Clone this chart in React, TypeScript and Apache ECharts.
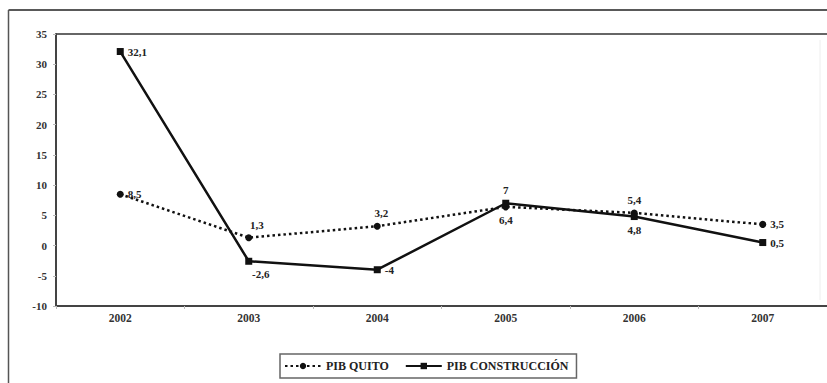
import React, { useEffect, useRef } from "react";
import * as echarts from "echarts";

const years = ["2002", "2003", "2004", "2005", "2006", "2007"];
const pibQuito = [8.5, 1.3, 3.2, 6.4, 5.4, 3.5];
const pibConstruccion = [32.1, -2.6, -4, 7, 4.8, 0.5];
const quitoLabelPos = ["right", "top", "top", "bottom", "top", "right"];
const constrLabelPos = ["right", "bottom", "right", "top", "bottom", "right"];
const quitoLabelShift = [0, 8, 4, 0, 0, 0];
const constrLabelShift = [0, 12, 0, 0, 0, 0];
const seriesNames = ["PIB QUITO", "PIB CONSTRUCCIÓN"];

const FONT = "'Liberation Serif', 'DejaVu Serif', serif";

const fmt = (v: number) => String(v).replace(".", ",");

export default function App() {
  const ref = useRef<HTMLDivElement>(null);
  useEffect(() => {
    if (!ref.current) return;
    const chart = echarts.init(ref.current, undefined, { renderer: "svg" });
    const labelStyle = {
      show: true,
      fontFamily: FONT,
      fontWeight: "bold" as const,
      fontSize: 11,
      color: "#222",
      distance: 4,
      formatter: (p: any) => fmt(p.value),
    };
    chart.setOption({
      animation: false,
      backgroundColor: "#fff",
      grid: { left: 56, top: 34, width: 773, height: 272, containLabel: false },
      xAxis: {
        type: "category",
        data: years,
        boundaryGap: true,
        axisLine: { onZero: false, lineStyle: { color: "#444", width: 2 } },
        axisTick: { show: true, alignWithLabel: false, length: 3, lineStyle: { color: "#bbb" } },
        axisLabel: { fontFamily: FONT, fontWeight: "bold", fontSize: 11.5, color: "#333", margin: 6 },
        splitLine: { show: false },
      },
      yAxis: {
        type: "value",
        min: -10,
        max: 35,
        interval: 5,
        axisLine: { show: true, lineStyle: { color: "#444", width: 2 } },
        axisTick: { show: true, length: 3, lineStyle: { color: "#bbb" } },
        axisLabel: { fontFamily: FONT, fontWeight: "bold", fontSize: 11, color: "#333", margin: 9 },
        splitLine: { show: false },
      },
      legend: {
        left: 280,
        top: 354,
        itemWidth: 36,
        itemHeight: 8,
        itemGap: 16,
        padding: [6, 8, 6, 4],
        borderColor: "#666",
        borderWidth: 1.5,
        textStyle: { fontFamily: FONT, fontWeight: "bold", fontSize: 12, color: "#222" },
        data: seriesNames,
      },
      series: [
        {
          name: seriesNames[0],
          type: "line",
          data: pibQuito.map((v, i) => ({
            value: v,
            label: { position: quitoLabelPos[i], offset: [quitoLabelShift[i], 0] },
          })),
          symbol: "circle",
          symbolSize: 7,
          itemStyle: { color: "#111" },
          lineStyle: { color: "#111", width: 2.5, type: [2.5, 3] },
          label: labelStyle,
          z: 2,
        },
        {
          name: seriesNames[1],
          type: "line",
          data: pibConstruccion.map((v, i) => ({
            value: v,
            label: { position: constrLabelPos[i], offset: [constrLabelShift[i], 0] },
          })),
          symbol: "rect",
          symbolSize: 7,
          itemStyle: { color: "#111" },
          lineStyle: { color: "#111", width: 2.5 },
          label: labelStyle,
          z: 3,
        },
      ],
      graphic: [
        { type: "line", shape: { x1: 8.5, y1: 10, x2: 827, y2: 10 }, style: { stroke: "#222", lineWidth: 1.5 } },
        { type: "line", shape: { x1: 8.5, y1: 10, x2: 8.5, y2: 383 }, style: { stroke: "#555", lineWidth: 1.5 } },
        { type: "line", shape: { x1: 56, y1: 34, x2: 827, y2: 34 }, style: { stroke: "#666", lineWidth: 2 } },
        { type: "line", shape: { x1: 820, y1: 40, x2: 820, y2: 300 }, style: { stroke: "#eee", lineWidth: 1 } },
      ],
    });
    return () => chart.dispose();
  }, []);
  return (
    <div
      ref={ref}
      style={{ position: "fixed", left: 0, top: 0, width: 827, height: 383, background: "#fff" }}
    />
  );
}
